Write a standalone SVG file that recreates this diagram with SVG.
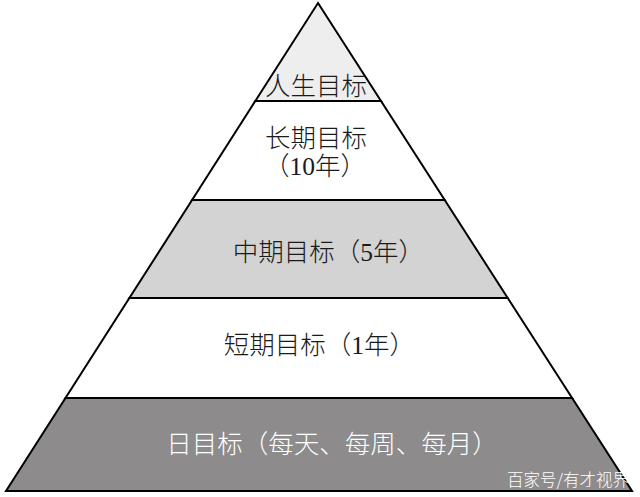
<svg xmlns="http://www.w3.org/2000/svg" width="640" height="497" viewBox="0 0 640 497">
<style>
.band{stroke:#000;stroke-width:2;stroke-linejoin:miter}
.lbl{font-family:"Liberation Serif","Noto Sans CJK SC",serif;font-size:25.5px;font-weight:300;fill:#1a1a1a;text-anchor:middle}
.wlbl{fill:#ffffff}
.wm{font-family:"Noto Sans CJK SC","Liberation Sans",sans-serif;font-size:16.5px;font-weight:300;fill:#ffffff;text-anchor:end}
</style>
<rect width="640" height="497" fill="#ffffff"/>
<g id="life">
<polygon class="band" points="318,3 381,101 255.3,101" fill="#eeeeee"/>
<text class="lbl" x="316" y="95">人生目标</text>
</g>
<g id="long">
<polygon class="band" points="255.3,101 381,101 444.7,200 192.1,200" fill="#ffffff"/>
<text class="lbl" x="316" y="146.5">长期目标</text>
<text class="lbl" x="315" y="175">（10年）</text>
</g>
<g id="mid">
<polygon class="band" points="192.1,200 444.7,200 507.7,298 129.4,298" fill="#d3d3d3"/>
<text class="lbl" x="328.5" y="260.5">中期目标（5年）</text>
</g>
<g id="short">
<polygon class="band" points="129.4,298 507.7,298 572.1,398 65.5,398" fill="#ffffff"/>
<text class="lbl" x="319.5" y="354">短期目标（1年）</text>
</g>
<g id="daily">
<polygon class="band" points="65.5,398 572.1,398 632,491 6,491" fill="#8d8b8c"/>
<text class="lbl wlbl" x="332" y="453">日目标（每天、每周、每月）</text>
</g>
<text class="wm" x="629" y="486">百家号/有才视界</text>
</svg>
